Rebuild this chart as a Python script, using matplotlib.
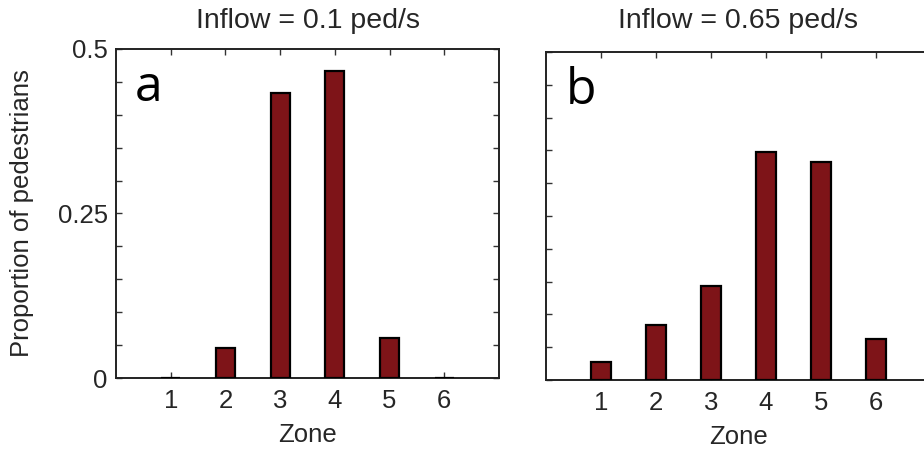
import matplotlib
matplotlib.use("Agg")
import matplotlib.pyplot as plt
import numpy as np

zones = [1, 2, 3, 4, 5, 6]
prop_a = [0.0, 0.045, 0.433, 0.467, 0.061, 0.0]
prop_b = [0.028, 0.084, 0.143, 0.348, 0.332, 0.062]
titles = ["Inflow = 0.1 ped/s", "Inflow = 0.65 ped/s"]
letters = ["a", "b"]
ytick_vals = [0, 0.25, 0.5]
ytick_labels = ["0", "0.25", "0.5"]

plt.rcParams['font.family'] = ['Liberation Sans', 'DejaVu Sans']
txt = '#262626'
bar_color = '#7e1418'

W, H = 924, 450
fig = plt.figure(figsize=(W / 100, H / 100), dpi=100)

def px_axes(x0, y0, x1, y1):
    return fig.add_axes([x0 / W, 1 - y1 / H, (x1 - x0) / W, (y1 - y0) / H])

ax1 = px_axes(116, 49, 499, 378)
ax2 = px_axes(546, 52, 931, 380)

for i, (ax, vals) in enumerate([(ax1, prop_a), (ax2, prop_b)]):
    ax.bar(zones, vals, width=0.35, color=bar_color, edgecolor='black', linewidth=1.6, zorder=3)
    ax.set_xlim(0, 7)
    ax.set_ylim(0, 0.5)
    ax.set_xticks(zones)
    ax.set_xticklabels([str(z) for z in zones], fontsize=18.5, color=txt)
    minor = np.arange(0, 0.5001, 0.05)
    ax.set_yticks(minor)
    if i == 0:
        ax.set_yticklabels([ytick_labels[ytick_vals.index(round(v, 2))] if round(v, 2) in ytick_vals else "" for v in minor],
                           fontsize=18.5, color=txt)
        ax.set_ylabel("Proportion of pedestrians", fontsize=18.5, color=txt, labelpad=17)
    else:
        ax.set_yticklabels([])
    ax.tick_params(direction='in', length=4, width=1, top=True, right=True, pad=6, colors='#333333')
    ax.tick_params(axis='x', pad=8)
    ax.tick_params(axis='both', labelcolor=txt)
    for s in ax.spines.values():
        s.set_linewidth(1.4)
        s.set_color('#222222')
    ax.set_xlabel("Zone", fontsize=18.5, color=txt, labelpad=7)
    ax.set_title(titles[i], fontsize=20.5, color=txt, pad=15 if i == 0 else 17)
    ax.text(0.05, 0.88, letters[i], transform=ax.transAxes, fontsize=36, family='Open Sans',
            color='black', ha='left', va='center')

fig.savefig("out.png", dpi=100)
